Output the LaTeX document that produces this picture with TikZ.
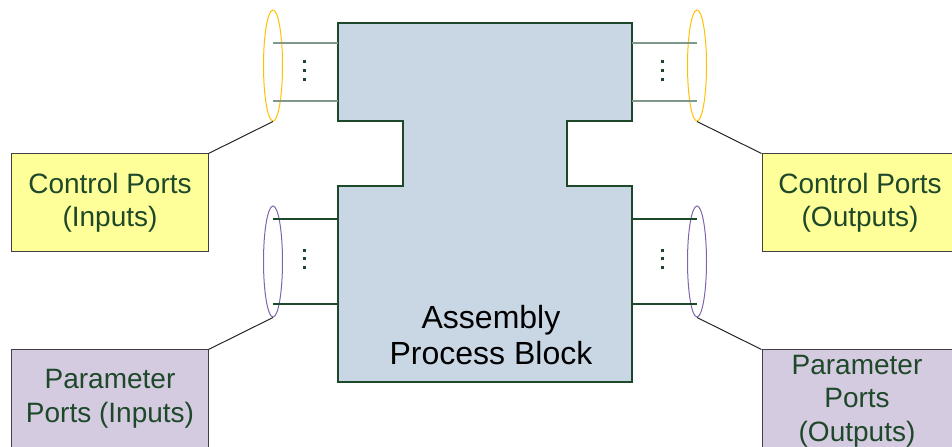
\documentclass[tikz,border=0pt]{standalone}
\usepackage{fontspec}
\setmainfont{Liberation Sans}
\usetikzlibrary{shapes.geometric}
\definecolor{blockblue}{RGB}{201,214,228}
\definecolor{darkgreen}{RGB}{30,72,42}
\definecolor{portgray}{RGB}{128,152,138}
\definecolor{ctlyellow}{RGB}{255,255,153}
\definecolor{parmauve}{RGB}{213,203,224}
\definecolor{ringgold}{RGB}{255,192,0}
\definecolor{ringpurple}{RGB}{128,100,170}

\begin{document}
\begin{tikzpicture}[x=1bp,y=-1bp,
    portbox/.style={draw=black!75,line width=1bp,minimum width=196bp,minimum height=98bp,
      inner sep=0pt,align=center,text=darkgreen,font=\fontsize{28bp}{33.5bp}\selectfont},
    ring/.style={ellipse,draw,line width=1bp,minimum width=19bp,minimum height=111bp,inner sep=0pt},
    leader/.style={draw=black!85,line width=1bp},
    dotmark/.style={fill=darkgreen}]
    \clip (0,0) rectangle (952,447);
    % process block
    \draw[fill=blockblue,draw=darkgreen,line width=1.4bp]
      (338,23) -- (632,23) -- (632,121) -- (567,121) -- (567,186) -- (632,186)
      -- (632,382) -- (338,382) -- (338,186) -- (403,186) -- (403,121) -- (338,121) -- cycle;
    \node[align=center,text=black,font=\fontsize{32bp}{36bp}\selectfont] (blk) at (491,335) {Assembly\\Process Block};
    % port groups
    \node[ring,draw=ringgold] (ctlin) at (273,65.5) {};
    \node[ring,draw=ringgold] (ctlout) at (697,65.5) {};
    \node[ring,draw=ringpurple] (parin) at (273,261.5) {};
    \node[ring,draw=ringpurple] (parout) at (697,261.5) {};
    \foreach \y in {43,101} {
      \draw[portgray,line width=2bp] (ctlin.center |- 0,\y) -- (338,\y);
      \draw[portgray,line width=2bp] (632,\y) -- (ctlout.center |- 0,\y);
    }
    \foreach \y in {219,304} {
      \draw[darkgreen,line width=1.2bp] (parin.center |- 0,\y) -- (338,\y);
      \draw[darkgreen,line width=1.2bp] (632,\y) -- (parout.center |- 0,\y);
    }
    \foreach \x in {304.5,662.5}
      \foreach \y in {61.3,70.3,79.3,250.3,258.3,267.3}
        \fill[dotmark] (\x-1.5,\y-1.5) rectangle (\x+1.5,\y+1.5);
    % labels
    \node[portbox,fill=ctlyellow] (ctlinbox) at (110,203) {Control Ports\\(Inputs)};
    \node[portbox,fill=ctlyellow] (ctloutbox) at (860,203) {Control Ports\\(Outputs)};
    \node[portbox,fill=parmauve] (parinbox) at (110,399) {Parameter\\Ports (Inputs)};
    \node[portbox,fill=parmauve] (paroutbox) at (860,399) {};
    \node[align=center,text=darkgreen,font=\fontsize{28bp}{33.5bp}\selectfont] (paroutlbl) at (857,401) {Parameter\\Ports\\(Outputs)};
    \draw[leader] (ctlin.south) -- (ctlinbox.north east);
    \draw[leader] (ctlout.south) -- (ctloutbox.north west);
    \draw[leader] (parin.south) -- (parinbox.north east);
    \draw[leader] (parout.south) -- (paroutbox.north west);
\end{tikzpicture}
\end{document}
